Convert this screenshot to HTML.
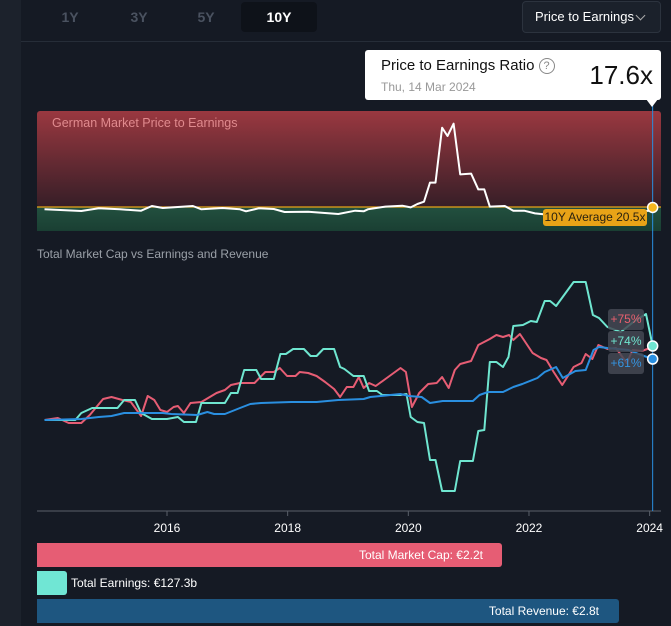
<!DOCTYPE html>
<html><head><meta charset="utf-8"><style>
body{margin:0;width:671px;height:626px;background:#151a24;font-family:"Liberation Sans",sans-serif;overflow:hidden;position:relative}
.abs{position:absolute}
</style></head><body>
<div class="abs" style="left:0;top:0;width:21px;height:626px;background:#1c222c"></div>
<div class="abs" style="left:55px;top:8px;width:30px;text-align:center;color:#4a5260;font-size:14px;font-weight:bold;line-height:18px">1Y</div>
<div class="abs" style="left:124px;top:8px;width:30px;text-align:center;color:#4a5260;font-size:14px;font-weight:bold;line-height:18px">3Y</div>
<div class="abs" style="left:191px;top:8px;width:30px;text-align:center;color:#4a5260;font-size:14px;font-weight:bold;line-height:18px">5Y</div>
<div class="abs" style="left:241px;top:2px;width:76px;height:30px;background:#0e1219;border-radius:4px;text-align:center;color:#fff;font-size:14px;font-weight:bold;line-height:30px">10Y</div>
<div class="abs" style="left:522px;top:1px;width:137px;height:30px;border:1px solid #2c333e;border-radius:4px;background:#1b212b;color:#fff;font-size:13px;line-height:30px"><span style="position:absolute;left:12px">Price to Earnings</span><span style="position:absolute;left:114px;top:10px;width:6px;height:6px;border-right:1.5px solid #aaa;border-bottom:1.5px solid #aaa;transform:rotate(45deg)"></span></div>
<div class="abs" style="left:21px;top:41px;width:650px;height:1px;background:#262d38"></div>
<svg class="abs" style="left:0;top:0" width="671" height="626" id="svg">
<defs>
<linearGradient id="rg" x1="0" y1="0" x2="0" y2="1"><stop offset="0" stop-color="#9a3840"/><stop offset="1" stop-color="#361e27"/></linearGradient>
<linearGradient id="gg" x1="0" y1="0" x2="0" y2="1"><stop offset="0" stop-color="#22503f"/><stop offset="1" stop-color="#1a3f33"/></linearGradient>
</defs>
</svg>
<div class="abs" style="left:52px;top:116px;color:#e08a8e;font-size:12.5px">German Market Price to Earnings</div>
<div class="abs" style="left:543px;top:209px;width:104px;height:17px;background:#e8a317;border-radius:3px;color:#2a2210;font-size:12px;line-height:17px;text-align:center">10Y Average 20.5x</div>
<div class="abs" style="left:365px;top:50px;width:296px;height:50px;background:#fff;border-radius:3px">
<div class="abs" style="left:16px;top:7px;font-size:15px;color:#111">Price to Earnings Ratio <span style="display:inline-block;width:14px;height:14px;border:1.5px solid #888;border-radius:50%;font-size:11px;line-height:14px;text-align:center;color:#888;vertical-align:1px">?</span></div>
<div class="abs" style="left:16px;top:30px;font-size:12px;color:#999">Thu, 14 Mar 2024</div>
<div class="abs" style="right:8px;top:10px;font-size:26px;color:#111">17.6x</div>
</div>
<div class="abs" style="left:646px;top:99px;width:0;height:0;border-left:6px solid transparent;border-right:6px solid transparent;border-top:8px solid #fff"></div>
<div class="abs" style="left:37px;top:247px;color:#9aa0a8;font-size:12px">Total Market Cap vs Earnings and Revenue</div>
<div class="abs" style="left:608px;top:309px;width:36px;height:21px;background:rgba(68,73,84,0.85);border-radius:3px;color:#e8606f;font-size:12px;line-height:21px;text-align:center">+75%</div>
<div class="abs" style="left:608px;top:331px;width:36px;height:21px;background:rgba(68,73,84,0.85);border-radius:3px;color:#6fe6d0;font-size:12px;line-height:21px;text-align:center">+74%</div>
<div class="abs" style="left:608px;top:353px;width:36px;height:21px;background:rgba(68,73,84,0.85);border-radius:3px;color:#3594e0;font-size:12px;line-height:21px;text-align:center">+61%</div>
<div class="abs" style="left:37px;top:543px;width:465px;height:24px;background:#e65d74;border-radius:0 3px 3px 0;color:#fff;font-size:12px;line-height:24px;text-align:right;box-sizing:border-box;padding-right:19px">Total Market Cap: €2.2t</div>
<div class="abs" style="left:37px;top:571px;width:30px;height:24px;background:#70e6d4;border-radius:0 3px 3px 0"></div>
<div class="abs" style="left:71px;top:571px;color:#fff;font-size:12px;line-height:24px">Total Earnings: €127.3b</div>
<div class="abs" style="left:37px;top:599px;width:582px;height:24px;background:#1e5680;border-radius:0 3px 3px 0;color:#fff;font-size:12px;line-height:24px;text-align:right;box-sizing:border-box;padding-right:20px">Total Revenue: €2.8t</div>
<script>
const peYears=[2013.97,2014.58,2014.87,2015.22,2015.57,2015.75,2015.93,2016.43,2016.57,2016.92,2017.21,2017.31,2017.52,2017.77,2017.95,2018.34,2018.84,2019.12,2019.26,2019.33,2019.62,2019.9,2020.04,2020.15,2020.26,2020.36,2020.45,2020.56,2020.65,2020.75,2020.86,2021.04,2021.16,2021.26,2021.35,2021.6,2021.74,2021.92,2022.1,2022.24,2022.45,2023.16,2024.05];
const peValues=[18.6,17.2,19.4,18.6,17.4,21.3,19.7,21.3,18.6,19.7,18.6,16.9,19.4,18.8,16.3,16.6,14.7,17.4,16.9,18.6,20.8,21.6,20.2,23,24.9,40.8,40.8,86.6,79.7,89.9,47.7,48.3,35.2,35.2,20.8,21.3,17.4,17.4,15.2,14.4,15,14.5,17.6];
const peAverage=20.5;
const capYears=[2013.97,2014.19,2014.37,2014.58,2014.72,2014.94,2015.08,2015.26,2015.4,2015.57,2015.68,2015.79,2015.89,2016,2016.11,2016.18,2016.28,2016.39,2016.57,2016.71,2016.82,2016.96,2017.06,2017.21,2017.45,2017.63,2017.77,2017.87,2017.99,2018.13,2018.2,2018.34,2018.48,2018.62,2018.77,2018.87,2018.98,2019.09,2019.18,2019.26,2019.35,2019.46,2019.62,2019.87,2019.96,2020.06,2020.18,2020.33,2020.47,2020.56,2020.67,2020.77,2020.86,2021.04,2021.16,2021.35,2021.46,2021.57,2021.67,2021.74,2021.85,2022.06,2022.2,2022.29,2022.41,2022.55,2022.74,2022.87,2022.94,2023.05,2023.15,2023.3,2023.44,2023.62,2023.72,2023.87,2024.05];
const capValues=[0,2,-3,-3,5,21,23,20,18,4,24,20,10,8,13,14,7,17,18,23,27,30,35,37,37,48,48,52,44,44,48,47,44,38,31,23,33,33,43,32,37,34,41,52,48,13,27,36,37,43,32,50,56,59,75,81,85,83,85,80,86,67,62,60,48,35,53,57,66,61,75,71,72,57,70,69,73];
const earnYears=[2013.97,2014.48,2014.58,2014.76,2015.18,2015.29,2015.47,2015.57,2015.75,2016,2016.18,2016.28,2016.48,2016.57,2016.96,2017.06,2017.17,2017.28,2017.48,2017.56,2017.77,2017.88,2017.97,2018.09,2018.27,2018.38,2018.48,2018.59,2018.77,2018.87,2018.94,2019.09,2019.26,2019.35,2019.48,2019.57,2019.87,2019.97,2020.04,2020.15,2020.26,2020.36,2020.45,2020.56,2020.77,2020.86,2021.07,2021.16,2021.26,2021.35,2021.46,2021.57,2021.66,2021.74,2021.9,2022.03,2022.13,2022.26,2022.35,2022.45,2022.74,2022.94,2023.06,2023.16,2023.3,2023.52,2023.73,2023.86,2023.94,2024.05];
const earnValues=[0,0,7,12,12,20,20,7,1,1,3,-2,-2,17,17,27,27,50,50,41,41,66,66,71,71,64,64,71,71,53,51,44,44,29,29,25,25,26,3,-2,-3,-40,-40,-71,-71,-41,-41,-11,-10,58,58,53,63,94,95,99,98,119,119,114,138,138,105,102,93,88,98,103,106,74];
const revYears=[2013.97,2014.58,2014.87,2015.08,2015.29,2015.5,2015.93,2016.07,2016.5,2016.67,2016.78,2016.96,2017.21,2017.38,2017.56,2018.06,2018.48,2018.84,2019.26,2019.37,2019.87,2020.01,2020.22,2020.36,2020.57,2021.07,2021.18,2021.32,2021.57,2021.74,2021.89,2022.14,2022.26,2022.45,2022.56,2022.77,2022.94,2023.07,2023.16,2023.3,2023.65,2023.86,2024.05];
const revValues=[0,1,3,4,7,7,7,6,5,8,6,6,12,16,17,18,18,20,21,23,26,24,23,17,19,19,25,28,28,33,36,42,48,53,42,49,50,70,73,72,70,65,61];
const tickYears=[2016,2018,2020,2022,2024];
const tickLabels=["2016","2018","2020","2022","2024"];

const NS="http://www.w3.org/2000/svg";
const svg=document.getElementById('svg');
const xs=y=>167+(y-2016)*60.33;
const yPE=v=>207-(v-peAverage)*1.2;
const yG=v=>420-v*1.0;
function mk(t,a){const e=document.createElementNS(NS,t);for(const k in a)e.setAttribute(k,a[k]);svg.appendChild(e);return e;}
let e;
e=mk('rect',{x:37,y:111,width:624,height:96,fill:'url(#rg)',rx:3});


e=mk('rect',{x:37,y:207,width:624,height:24,fill:'url(#gg)'});


e=mk('line',{x1:37,x2:661,y1:yPE(peAverage),y2:yPE(peAverage),stroke:'#e8a317','stroke-width':1.2});


function path(xa,va,yf,col,w,name){let d='';xa.forEach((x,i)=>{d+=(i?'L':'M')+xs(x).toFixed(1)+','+yf(va[i]).toFixed(1);});
const p=mk('path',{d:d,fill:'none',stroke:col,'stroke-width':w,'stroke-linejoin':'round'});

return p;}
path(peYears,peValues,yPE,'#ffffff',2,'pe-line');
e=mk('line',{x1:37,x2:661,y1:511,y2:511,stroke:'#5a606a','stroke-width':1});


tickYears.forEach((t,i)=>{
 const l=mk('line',{x1:xs(t),x2:xs(t),y1:511,y2:516,stroke:'#5a606a'});
 
 
 const tx=mk('text',{x:xs(t),y:532,'text-anchor':'middle',fill:'#fff','font-size':12,'font-family':'Liberation Sans, sans-serif'});
 
 
 tx.textContent=tickLabels[i];
});
path(capYears,capValues,yG,'#e65d74',2,'market-cap-line');
path(earnYears,earnValues,yG,'#6fe6d0',2,'earnings-line');
path(revYears,revValues,yG,'#2a8fe0',2,'revenue-line');
const endX=xs(2024.05);
e=mk('line',{x1:endX,x2:endX,y1:100,y2:511,stroke:'#2a8fe0','stroke-width':1});


e=mk('circle',{cx:endX,cy:yPE(peValues[peValues.length-1])-3,r:5,fill:'#f5b820',stroke:'#fff','stroke-width':1.5});


e=mk('circle',{cx:endX,cy:yG(earnValues[earnValues.length-1]),r:5,fill:'#6fe6d0',stroke:'#fff','stroke-width':1.5});


e=mk('circle',{cx:endX,cy:yG(revValues[revValues.length-1]),r:5,fill:'#2a8fe0',stroke:'#fff','stroke-width':1.5});


</script>
</body></html>
